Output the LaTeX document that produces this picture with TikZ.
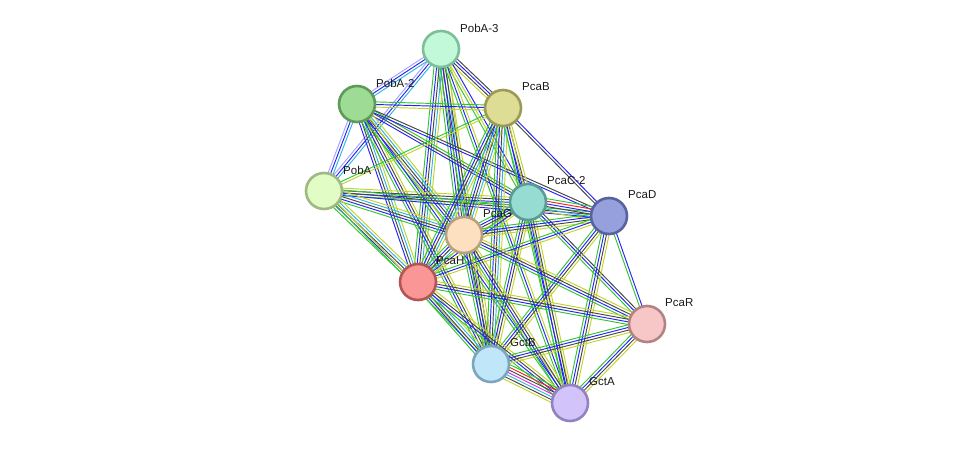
\documentclass[tikz,border=0pt]{standalone}
\usepackage{fontspec}
\setmainfont{Liberation Sans}
\usetikzlibrary{calc}
\pgfdeclarelayer{background}
\pgfsetlayers{background,main}
\definecolor{cG}{HTML}{33C633}
\definecolor{cB}{HTML}{2424F6}
\definecolor{cY}{HTML}{C2D42C}
\definecolor{cK}{HTML}{474747}
\definecolor{cC}{HTML}{30B6DC}
\definecolor{cR}{HTML}{F02424}
\definecolor{cM}{HTML}{DD30DD}
\definecolor{cL}{HTML}{A4A4FF}
\tikzset{
  prot/.style={circle, line width=2.6pt, minimum size=36pt, inner sep=0pt},
  lab/.style={anchor=west, inner sep=0pt, font=\fontsize{11.5}{12}\selectfont, text=black!90},
  edgeline/.style={line width=0.95pt},
}
\newcommand\bund[3]{%
  \def\nb{0}%
  \foreach \c in {#3}{\pgfmathtruncatemacro\t{\nb+1}\xdef\nb{\t}}%
  \foreach \c [count=\i] in {#3}{%
    \pgfmathsetmacro\off{(\i-1-(\nb-1)/2)*2.6}%
    \draw[edgeline,\c] ($(#1)!\off pt!90:(#2)$) -- ($(#2)!\off pt!-90:(#1)$);
  }%
}
\begin{document}
\begin{tikzpicture}[x=1pt,y=-1pt]
\useasboundingbox (0,0) rectangle (976,449);
% nodes
\node[prot, fill={rgb,255:red,194;green,249;blue,217}, draw={rgb,255:red,125;green,190;blue,155}] (A3) at (441,49) {};
\node[prot, fill={rgb,255:red,221;green,221;blue,150}, draw={rgb,255:red,155;green,155;blue,85}] (B) at (503,108) {};
\node[prot, fill={rgb,255:red,158;green,220;blue,150}, draw={rgb,255:red,95;green,155;blue,88}] (A2) at (357,104) {};
\node[prot, fill={rgb,255:red,226;green,252;blue,198}, draw={rgb,255:red,160;green,185;blue,130}] (A) at (324,191) {};
\node[prot, fill={rgb,255:red,150;green,220;blue,210}, draw={rgb,255:red,90;green,155;blue,148}] (C2) at (528,202) {};
\node[prot, fill={rgb,255:red,150;green,160;blue,220}, draw={rgb,255:red,88;green,98;blue,160}] (D) at (609,216) {};
\node[prot, fill={rgb,255:red,253;green,224;blue,192}, draw={rgb,255:red,185;green,160;blue,130}] (G) at (464,235) {};
\node[prot, fill={rgb,255:red,250;green,150;blue,150}, draw={rgb,255:red,180;green,85;blue,85}] (H) at (418,282) {};
\node[prot, fill={rgb,255:red,247;green,198;blue,198}, draw={rgb,255:red,180;green,130;blue,130}] (R) at (647,324) {};
\node[prot, fill={rgb,255:red,192;green,230;blue,250}, draw={rgb,255:red,125;green,165;blue,190}] (GB) at (491,364) {};
\node[prot, fill={rgb,255:red,210;green,196;blue,250}, draw={rgb,255:red,148;green,130;blue,192}] (GA) at (570,403) {};
% labels
\node[lab] (lA3) at ($(A3)+(19,-21)$) {PobA-3};
\node[lab] (lB) at ($(B)+(19,-21)$) {PcaB};
\node[lab] (lA2) at ($(A2)+(19,-21)$) {PobA-2};
\node[lab] (lA) at ($(A)+(19,-21)$) {PobA};
\node[lab] (lC2) at ($(C2)+(19,-21)$) {PcaC-2};
\node[lab] (lD) at ($(D)+(19,-21)$) {PcaD};
\node[lab] (lG) at ($(G)+(19,-21)$) {PcaG};
\node[lab] (lH) at ($(H)+(18,-21)$) {PcaH};
\node[lab] (lR) at ($(R)+(18,-21)$) {PcaR};
\node[lab] (lGB) at ($(GB)+(19,-21)$) {GctB};
\node[lab] (lGA) at ($(GA)+(19,-21)$) {GctA};
% edges
\begin{pgfonlayer}{background}
\bund{A3}{A2}{cL,cB,cC}
\bund{A3}{A}{cL,cB,cC}
\bund{A3}{B}{cY,cK,cB,cK}
\bund{A3}{C2}{cG,cY,cB}
\bund{A3}{G}{cG,cB,cK,cC,cY}
\bund{A3}{H}{cG,cB,cK,cC,cY}
\bund{A3}{GB}{cG,cB,cK,cY}
\bund{A3}{GA}{cG,cB,cY}
\bund{A2}{B}{cY,cB,cG}
\bund{A2}{A}{cL,cB,cC}
\bund{A2}{C2}{cB,cK,cG}
\bund{A2}{D}{cB,cK}
\bund{A2}{G}{cG,cB,cK,cC,cY}
\bund{A2}{H}{cB,cK,cC,cY}
\bund{A2}{GB}{cG,cB,cK,cY}
\bund{A2}{GA}{cG,cB,cY}
\bund{A}{B}{cY,cG}
\bund{A}{C2}{cG,cB,cK,cY}
\bund{A}{D}{cB,cK,cG}
\bund{A}{G}{cG,cB,cK,cC,cY}
\bund{A}{H}{cG,cB,cK,cC,cY}
\bund{A}{GB}{cG,cY}
\bund{B}{C2}{cG,cB,cK,cY}
\bund{B}{D}{cK,cB}
\bund{B}{G}{cG,cB,cK,cC,cY}
\bund{B}{H}{cG,cB,cK,cC,cY}
\bund{B}{GB}{cG,cB,cK,cC,cY}
\bund{B}{GA}{cG,cB,cY}
\bund{C2}{D}{cY,cC,cK,cB,cR,cG}
\bund{C2}{G}{cG,cB,cK,cY}
\bund{C2}{H}{cG,cB,cY}
\bund{C2}{GB}{cG,cB,cK,cY}
\bund{C2}{GA}{cG,cB,cK,cY}
\bund{C2}{R}{cG,cB,cK}
\bund{D}{G}{cG,cB,cK,cY}
\bund{D}{H}{cG,cB,cY}
\bund{D}{GB}{cG,cB,cK,cY}
\bund{D}{GA}{cG,cB,cK,cY}
\bund{D}{R}{cG,cB}
\bund{G}{H}{cG,cB,cK,cC,cY}
\bund{G}{GB}{cG,cB,cK,cY}
\bund{G}{GA}{cG,cB,cK,cY}
\bund{G}{R}{cG,cB,cK,cY}
\bund{H}{GB}{cG,cB,cK,cC,cY}
\bund{H}{GA}{cG,cB,cK,cY}
\bund{H}{R}{cG,cB,cK,cY}
\bund{R}{GB}{cG,cB,cK,cY}
\bund{R}{GA}{cG,cB,cK,cY}
\bund{GB}{GA}{cY,cK,cC,cM,cK,cR,cG}
\end{pgfonlayer}
\end{tikzpicture}
\end{document}
